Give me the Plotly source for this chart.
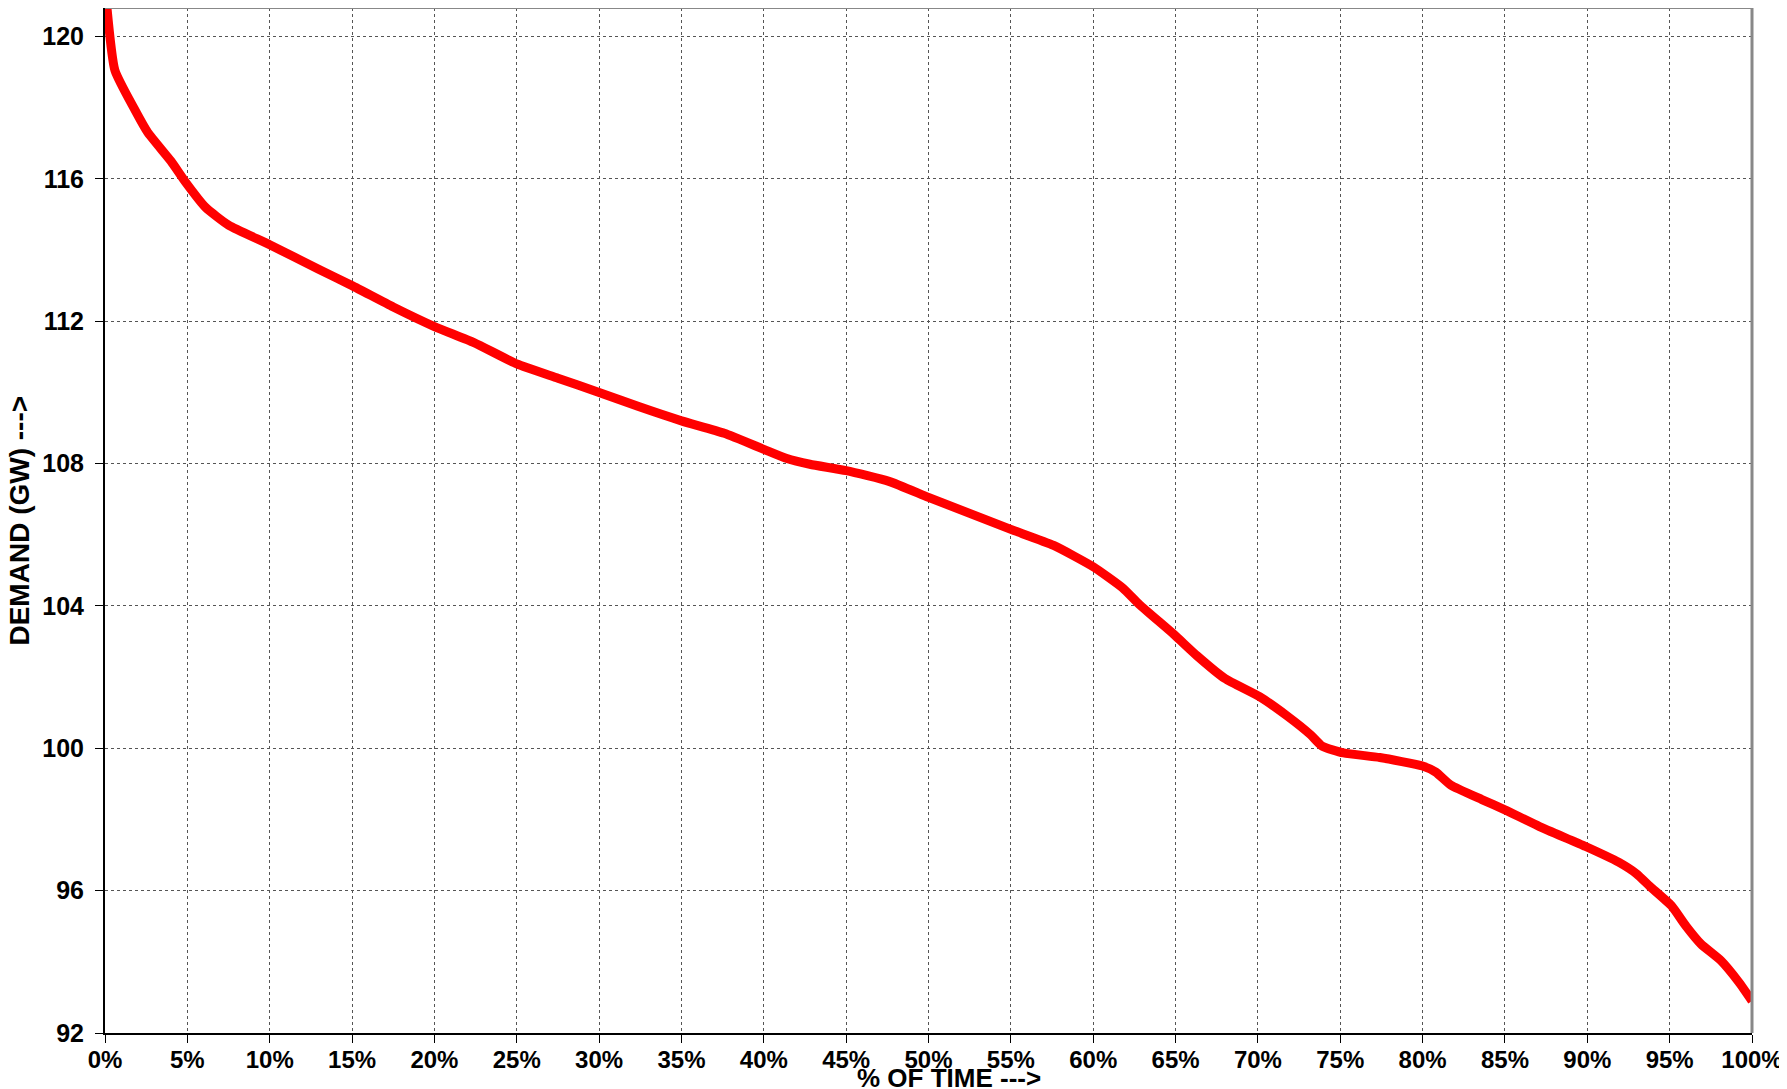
import plotly.graph_objects as go

# % of time (x) and demand in GW (y)
time_pct = [0.0, 0.6, 1.8, 2.6, 4.0, 4.9, 6.1, 7.5, 10.0, 13.0, 15.0, 17.5, 20.0, 22.4, 25.0,
            27.5, 30.0, 32.4, 35.0, 37.6, 40.0, 41.4, 42.8, 45.0, 47.6, 50.0, 52.5, 55.0,
            57.6, 60.0, 61.8, 62.8, 64.9, 66.3, 68.0, 70.1, 71.8, 73.2, 73.9, 75.2, 77.4,
            80.0, 80.8, 81.7, 83.6, 85.0, 87.1, 89.9, 91.9, 93.0, 93.8, 95.1, 96.0, 96.9,
            98.1, 99.2, 100.0]
demand_gw = [121.4, 119.05, 117.95, 117.3, 116.5, 115.9, 115.2, 114.7, 114.15, 113.45, 113.0,
             112.4, 111.85, 111.4, 110.8, 110.4, 110.0, 109.6, 109.2, 108.85, 108.4, 108.14,
             107.98, 107.8, 107.5, 107.05, 106.6, 106.15, 105.7, 105.1, 104.5, 104.04, 103.2,
             102.6, 101.96, 101.45, 100.9, 100.38, 100.06, 99.87, 99.74, 99.5, 99.33, 98.97,
             98.56, 98.27, 97.8, 97.24, 96.8, 96.47, 96.12, 95.58, 95.0, 94.5, 94.04, 93.43,
             92.9]

x_ticks = list(range(0, 101, 5))
x_tick_labels = [f"{v}%" for v in x_ticks]
y_ticks = [92, 96, 100, 104, 108, 112, 116, 120]

FONT = "Liberation Sans, Arial, sans-serif"

fig = go.Figure()
fig.add_trace(go.Scatter(
    x=time_pct, y=demand_gw, mode="lines",
    line=dict(color="#ff0000", width=9, shape="spline", smoothing=0.5),
    showlegend=False, hoverinfo="skip",
))

fig.update_layout(
    width=1779, height=1081,
    margin=dict(l=97, r=35, t=0, b=56, autoexpand=False),
    paper_bgcolor="white", plot_bgcolor="white",
    font=dict(family=FONT, color="black"),
    xaxis=dict(
        range=[0, 100], tickvals=x_ticks, ticktext=x_tick_labels,
        tickfont=dict(size=24, family=FONT, color="black", weight="bold"),
        showgrid=True, gridcolor="#555555", griddash="dot", gridwidth=1,
        showline=True, linecolor="black", linewidth=2,
        ticks="outside", ticklen=8, tickcolor="black", tickwidth=1,
        ticklabelstandoff=-4,
        zeroline=False, fixedrange=True, automargin=False,
    ),
    yaxis=dict(
        range=[92, 120.8], tickvals=y_ticks,
        tickfont=dict(size=25, family=FONT, color="black", weight="bold"),
        showgrid=True, gridcolor="#555555", griddash="dot", gridwidth=1,
        showline=True, linecolor="black", linewidth=2,
        ticks="outside", ticklen=8, tickcolor="black", tickwidth=1,
        ticklabelstandoff=6,
        zeroline=False, fixedrange=True, automargin=False,
    ),
    shapes=[
        dict(type="line", xref="paper", yref="paper", x0=0, x1=1, y0=1, y1=1,
             line=dict(color="#888888", width=2)),
        dict(type="line", xref="paper", yref="paper", x0=1, x1=1, y0=0, y1=1,
             line=dict(color="#888888", width=3)),
    ],
    annotations=[
        dict(text="% OF TIME --->", xref="paper", yref="paper", x=0.5125, y=-0.0439,
             xanchor="center", yanchor="middle", showarrow=False,
             font=dict(size=26, family=FONT, color="black", weight="bold")),
        dict(text="DEMAND (GW) --->", xref="paper", yref="paper", x=-0.0522, y=0.5,
             xanchor="center", yanchor="middle", showarrow=False, textangle=-90,
             font=dict(size=28, family=FONT, color="black", weight="bold")),
    ],
)

fig.write_html("out.html")
